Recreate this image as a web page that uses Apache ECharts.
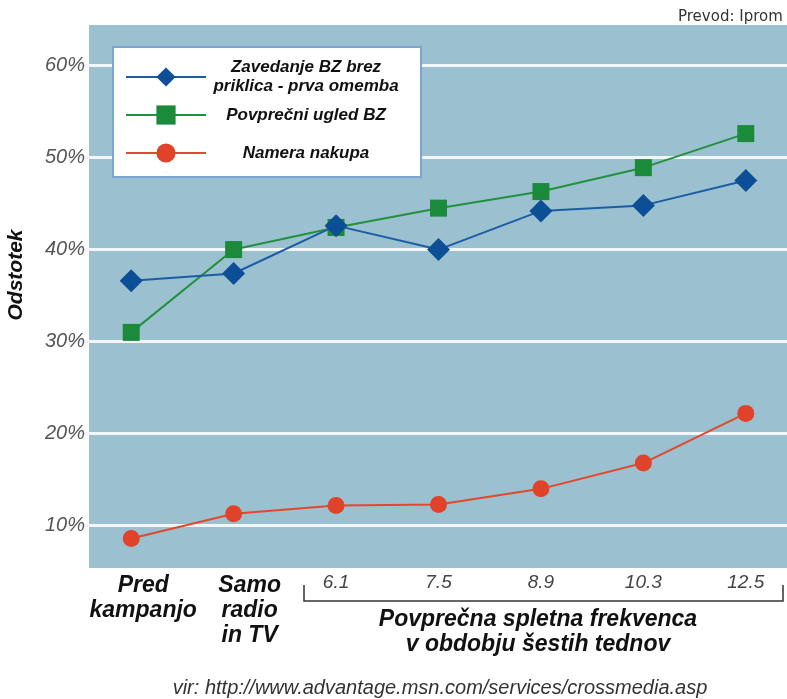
<!DOCTYPE html>
<html>
<head>
<meta charset="utf-8">
<script src="https://cdn.jsdelivr.net/npm/echarts@6/dist/echarts.min.js"></script>
<style>
  html, body { margin: 0; padding: 0; background: #ffffff; }
  #chart { width: 787px; height: 699px; }
</style>
</head>
<body>
<div id="chart"></div>
<script>
// Categories along the horizontal axis: two baselines, then average web frequency
const categories = ['Pred\nkampanjo', 'Samo\nradio\nin TV', '6.1', '7.5', '8.9', '10.3', '12.5'];
const seriesNames = ['Zavedanje BZ brez\npriklica - prva omemba', 'Povprečni ugled BZ', 'Namera nakupa'];
// Percent values per series
const awareness = [36.6, 37.4, 42.6, 40.0, 44.2, 44.8, 47.5];
const brandImage = [31.0, 40.0, 42.4, 44.5, 46.3, 48.9, 52.6];
const purchaseIntent = [8.6, 11.3, 12.2, 12.3, 14.0, 16.8, 22.2];
// Percent tick labels on the vertical axis
const yTicks = [10, 20, 30, 40, 50, 60];

const FONT = "'Liberation Sans', Arial, sans-serif";
const chart = echarts.init(document.getElementById('chart'), null, { renderer: 'canvas' });

// The first two categories are baseline groups and use a larger bold label
const baselineLabel = {
  fontFamily: FONT, fontSize: 23, fontWeight: 'bold', fontStyle: 'italic',
  color: '#111', lineHeight: 25
};
const xData = categories.map((c, i) => {
  if (i === 0) return { value: c, textStyle: Object.assign({ padding: [0, 0, 0, 24] }, baselineLabel) };
  if (i === 1) return { value: c, textStyle: Object.assign({ padding: [0, 0, 0, 32] }, baselineLabel) };
  return c;
});

const legendText = {
  fontFamily: FONT, fontSize: 17, fontWeight: 'bold', fontStyle: 'italic',
  color: '#111', width: 190, align: 'center', lineHeight: 19
};
// Single-line entries get vertical padding so every entry occupies the same height
const legendData = seriesNames.map(n => (
  n.indexOf('\n') >= 0 ? { name: n } : { name: n, textStyle: { padding: [10, 0, 9, 0] } }
));

chart.setOption({
  animation: false,
  backgroundColor: '#ffffff',
  grid: { left: 80, right: -10, top: 25, bottom: 131, containLabel: false, outerBoundsMode: 'none' },
  graphic: [
    {
      type: 'rect', z: -10, silent: true,
      shape: { x: 89, y: 25, width: 698, height: 543 },
      style: { fill: '#9bc0cf' }
    },
    {
      type: 'polyline', silent: true,
      shape: { points: [[304, 585], [304, 601], [783, 601], [783, 585]] },
      style: { stroke: '#333', lineWidth: 1.5, fill: null }
    },
    {
      type: 'text', silent: true, x: 538, y: 632,
      style: {
        text: 'Povprečna spletna frekvenca\nv obdobju šestih tednov',
        fontFamily: FONT, fontSize: 23, fontWeight: 'bold', fontStyle: 'italic',
        fill: '#111', align: 'center', verticalAlign: 'middle', lineHeight: 25
      }
    },
    {
      type: 'text', silent: true, x: 440, y: 688,
      style: {
        text: 'vir: http://www.advantage.msn.com/services/crossmedia.asp',
        fontFamily: FONT, fontSize: 20, fontStyle: 'italic',
        fill: '#333', align: 'center', verticalAlign: 'middle'
      }
    },
    {
      type: 'text', silent: true, x: 678, y: 17,
      style: {
        text: 'Prevod: Iprom',
        fontFamily: "'DejaVu Sans', sans-serif", fontSize: 15,
        fill: '#333', align: 'left', verticalAlign: 'middle'
      }
    }
  ],
  legend: {
    data: legendData,
    orient: 'vertical', left: 113, top: 47,
    itemWidth: 80, itemHeight: 24, itemGap: 0,
    padding: [11, 20, 5, 12],
    backgroundColor: '#ffffff', borderColor: '#7aa6cf', borderWidth: 2,
    selectedMode: false,
    formatter: name => '{t|' + name + '}',
    textStyle: {
      backgroundColor: '#ffffff',
      rich: { t: legendText }
    }
  },
  xAxis: {
    type: 'category',
    data: xData,
    boundaryGap: true,
    axisLine: { show: false },
    axisTick: { show: false },
    splitLine: { show: false },
    axisLabel: {
      interval: 0, margin: 5, verticalAlign: 'top',
      fontFamily: FONT, fontSize: 19, fontStyle: 'italic', color: '#444'
    }
  },
  yAxis: {
    type: 'value',
    min: 5.4, max: 64.4,
    axisLine: { show: false },
    axisTick: { show: false, customValues: yTicks },
    axisLabel: {
      customValues: yTicks, formatter: '{value}%', margin: -5,
      fontFamily: FONT, fontSize: 20, fontStyle: 'italic', color: '#555'
    },
    splitLine: { show: true, lineStyle: { color: '#f1f6f9', width: 3 } },
    name: 'Odstotek', nameLocation: 'middle', nameGap: 53, nameRotate: 90,
    nameTextStyle: {
      fontFamily: FONT, fontSize: 21, fontWeight: 'bold', fontStyle: 'italic',
      color: '#111', padding: [0, 0, 0, 43]
    }
  },
  series: [
    {
      name: seriesNames[1], type: 'line', data: brandImage, z: 3,
      symbol: 'rect', symbolSize: 17,
      lineStyle: { color: '#22913f', width: 2 },
      itemStyle: { color: '#1b8a3a' }
    },
    {
      name: seriesNames[2], type: 'line', data: purchaseIntent, z: 3,
      symbol: 'circle', symbolSize: 17,
      lineStyle: { color: '#e2482c', width: 2 },
      itemStyle: { color: '#e0432a' }
    },
    {
      name: seriesNames[0], type: 'line', data: awareness, z: 4,
      symbol: 'diamond', symbolSize: 23,
      lineStyle: { color: '#1b5da5', width: 2 },
      itemStyle: { color: '#0c4f97' }
    }
  ]
});
</script>
</body>
</html>
